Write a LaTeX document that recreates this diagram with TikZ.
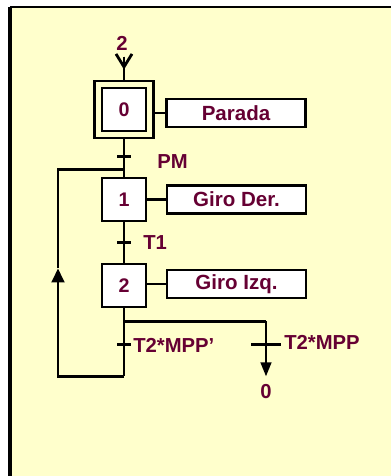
\documentclass[tikz,border=0pt]{standalone}
\usepackage{fontspec}
\setmainfont{Liberation Sans}
\definecolor{grafcetred}{RGB}{102, 0, 51}
\definecolor{fondo}{RGB}{255, 255, 204}
\usetikzlibrary{arrows.meta, positioning, calc}
\tikzset{
  etapa/.style={draw, fill=white, line width=2pt, minimum width=1.1cm, minimum height=1.075cm, inner sep=0pt, text=grafcetred, font=\bfseries\fontsize{14}{16}\selectfont},
  accion/.style={draw, fill=white, line width=2pt, minimum width=3.475cm, minimum height=0.7cm, inner sep=0pt, text=grafcetred, font=\bfseries\fontsize{14.6}{16}\selectfont},
  etiq/.style={inner sep=0pt, text=grafcetred, font=\bfseries\fontsize{14.4}{16}\selectfont},
  enlace/.style={line width=2pt},
}

\begin{document}
\begin{tikzpicture}[x=0.025cm, y=-0.025cm]
  \useasboundingbox (0,0) rectangle (391,476);
  \fill[white] (0,0) rectangle (391,476);
  \fill[fondo] (10,8) rectangle (391,476);
  \draw[line width=2.4pt] (10,476) -- (10,7);
  \draw[line width=1.3pt] (10,7) -- (391,7);

  \node[etapa] (e0) at (124,109.5) {0};
  \node[draw, line width=2pt, minimum width=1.475cm, minimum height=1.425cm] (ini) at (e0) {};
  \node[etapa, below=1.105cm of e0] (e1) {1};
  \node[etapa, below=1.005cm of e1] (e2) {2};

  \node[accion, right=0.255cm of ini, yshift=-0.0875cm] (a0) {Parada};
  \node[accion, right=0.455cm of e1] (a1) {Giro Der.};
  \node[accion, right=0.455cm of e2, yshift=0.0375cm] (a2) {Giro Izq.};
  \draw[enlace] (a0.west) -- (a0.west -| ini.east);
  \draw[enlace] (a1.west) -- (a1.west -| e1.east);
  \draw[enlace] (a2.west) -- (a2.west -| e2.east);

  % entrada desde la etapa 2
  \coordinate (in0) at ($(ini.north)+(0,-23)$);
  \node[etiq] (d2) at ($(in0)+(-2,-13)$) {2};
  \draw[enlace] (in0) -- (ini.north);
  \draw[enlace, -{Straight Barb[length=0.325cm, width=0.4cm]}] (in0) -- ++(0,13);

  % transiciones
  \coordinate (t0) at ($(ini.south)!0.45!(e1.north)$);
  \coordinate (t1) at ($(e1.south)!0.5!(e2.north)$);
  \draw[enlace] (ini.south) -- (e1.north);
  \draw[enlace] (e1.south) -- (e2.north);
  \draw[enlace] ($(t0)+(-7,0)$) -- ($(t0)+(7,0)$);
  \draw[enlace] ($(t1)+(-7,0)$) -- ($(t1)+(7,0)$);
  \node[etiq, anchor=west] (lpm) at ($(t0)+(33,5)$) {PM};
  \node[etiq, anchor=west] (lt1) at ($(t1)+(19,0)$) {T1};

  % seleccion de secuencia
  \coordinate (div) at ($(e2.south)+(0,13)$);
  \coordinate (dder) at ($(div)+(142,0)$);
  \coordinate (fin) at ($(dder)+(0,55)$);
  \coordinate (fizq) at ($(div)+(0,55)$);
  \coordinate (sube) at ($(fizq)+(-66,-108)$);
  \coordinate (ret) at ($(t0)+(0,13)$);
  \coordinate (t2) at ($(div)+(0,23)$);
  \coordinate (t3) at ($(dder)+(0,23)$);
  \draw[enlace] (e2.south) -- (div) -- (dder);
  \draw[enlace, -{Triangle[length=0.35cm, width=0.26cm]}] (dder) -- (fin);
  \node[etiq, below=0.2cm of fin] (s0) {0};
  \draw[enlace] (div) -- (fizq);
  \draw[enlace, -{Triangle[length=0.35cm, width=0.32cm]}] (fizq) -| (sube);
  \draw[enlace] (sube) |- (ret);
  \draw[enlace] ($(t2)+(-7,0)$) -- ($(t2)+(7,0)$);
  \draw[enlace] ($(t3)+(-15,0)$) -- ($(t3)+(15,0)$);
  \node[etiq, anchor=west] (lt2) at ($(t2)+(9,1)$) {T2*MPP’};
  \node[etiq, anchor=west] (lt3) at ($(t3)+(18,-2)$) {T2*MPP};
\end{tikzpicture}
\end{document}
